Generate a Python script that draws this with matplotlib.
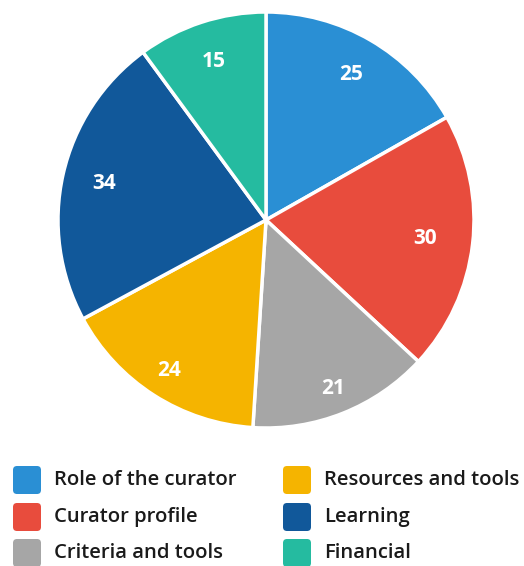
import numpy as np
import matplotlib.pyplot as plt
from matplotlib.patches import FancyBboxPatch

labels = ["Role of the curator", "Curator profile", "Criteria and tools",
          "Resources and tools", "Learning", "Financial"]
values = [25, 30, 21, 24, 34, 15]
colors = ["#2a8fd4", "#e84c3d", "#a6a6a6", "#f5b400", "#11589a", "#25bba0"]
# radial position of each value label (fraction of radius)
label_r = [0.81, 0.77, 0.87, 0.86, 0.80, 0.80]

W, H = 524, 566
fig = plt.figure(figsize=(W / 100, H / 100), dpi=100)

# pie axes (pixel box 58..474 x 12..428)
cx, cy, r = 266, 220, 208
ax = fig.add_axes([(cx - r) / W, (H - cy - r) / H, 2 * r / W, 2 * r / H])
wedges, texts = ax.pie(values, colors=colors, startangle=90, counterclock=False,
                       wedgeprops=dict(edgecolor="white", linewidth=2.5),
                       labels=[str(v) for v in values], labeldistance=0.8)
for w, t, lr in zip(wedges, texts, label_r):
    ang = np.deg2rad((w.theta1 + w.theta2) / 2)
    t.set_position((lr * np.cos(ang), lr * np.sin(ang)))
    t.set_color("white")
    t.set_fontsize(15)
    t.set_fontweight("bold")
    t.set_fontfamily("Open Sans")
    t.set_ha("center")
    t.set_va("center")
ax.set_xlim(-1.0, 1.0)
ax.set_ylim(-1.0, 1.0)
ax.axis("off")

# legend drawn in pixel coordinates
lg = fig.add_axes([0, 0, 1, 1])
lg.set_xlim(0, W)
lg.set_ylim(H, 0)
lg.axis("off")
col_x = [13, 283]
row_y = [480, 517, 553]
for i, (lab, c) in enumerate(zip(labels, colors)):
    x = col_x[i // 3]
    y = row_y[i % 3]
    lg.add_patch(FancyBboxPatch((x + 4, y - 10), 20, 20,
                                boxstyle="round,pad=4", fc=c, ec="none"))
    lg.text(x + 41, y, lab, fontsize=14.6, fontweight="semibold",
            fontfamily="Open Sans", color="#1a1a1a", va="center", ha="left")

fig.savefig("out.png", dpi=100)
